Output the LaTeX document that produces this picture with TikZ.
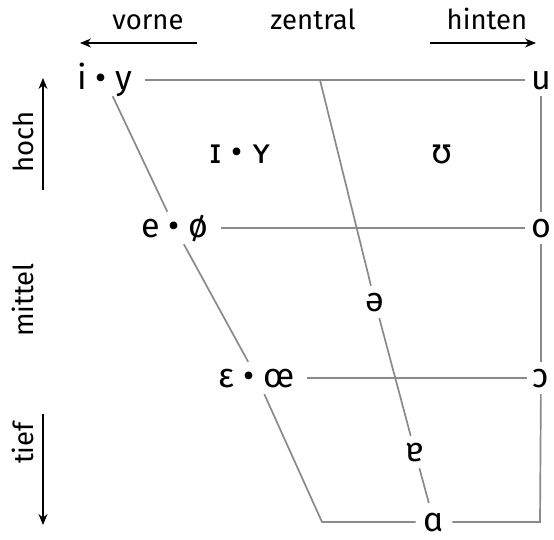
\documentclass[tikz,border=0pt]{standalone}
\usepackage{fontspec}
\setmainfont{Fira Sans}
\newfontfamily\ipafb{DejaVu Sans}
\usetikzlibrary{arrows.meta}
\begin{document}
\begin{tikzpicture}[x=1pt,y=-1pt,
  vowel/.style={font=\fontsize{34}{38}\selectfont, text height=18pt, text depth=0pt, inner ysep=7pt, inner xsep=8pt},
  front/.style={vowel, inner xsep=12pt},
  back/.style={vowel, inner xsep=6pt},
  lax/.style={vowel, inner sep=2pt},
  lab/.style={font=\fontsize{27.5}{32}\selectfont, inner sep=0pt},
  edge/.style={draw={rgb,255:red,138;green,138;blue,138}, line width=1.7pt},
  dir/.style={draw=black, line width=1.3pt, -{Stealth[length=11pt,width=9pt]}}]
\path[use as bounding box, fill=white] (0,0) rectangle (554,539);
% vowels
\node[front] (iy) at (105,80) {i • y};
\node[back] (u) at (541,80) {u};
\node[lax] (iiyy) at (241,154) {{\ipafb ɪ} • {\ipafb ʏ}};
\node[lax] (uu) at (442,154) {\ipafb ʊ};
\node[front] (eo) at (175,228) {e • ø};
\node[back] (o) at (541,228) {o};
\node[vowel] (schwa) at (375,302) {ə};
\node[front] (ee) at (257,378) {ε • œ};
\node[back] (oo) at (541,378) {ɔ};
\node[vowel] (tura) at (415,452) {ɐ};
\node[vowel, inner ysep=4pt] (a) at (434,522) {ɑ};
\coordinate (ctop) at (320,80);
\coordinate (bl) at (322,522);
\coordinate (br) at (540,522);
% grid
\draw[edge] (iy) -- (u);
\draw[edge] (eo) -- (o);
\draw[edge] (ee) -- (oo);
\draw[edge] (iy) -- (eo) -- (ee) -- (bl) -- (a);
\draw[edge] (a) -- (br) -- (oo) -- (o) -- (u);
\draw[edge, shorten >=6pt] (ctop) -- (schwa) -- (tura) -- (a);
% labels
\node[lab, anchor=base] (vorne) at (148,29) {vorne};
\node[lab, anchor=base] (zentral) at (313,29) {zentral};
\node[lab, anchor=base] (hinten) at (487,29) {hinten};
\node[lab, anchor=base, rotate=90] (hoch) at (33,142) {hoch};
\node[lab, anchor=base, rotate=90] (mittel) at (33,300) {mittel};
\node[lab, anchor=base, rotate=90] (tief) at (33,443) {tief};
\coordinate (l1) at (197,43); \coordinate (l2) at (80,43);
\coordinate (r1) at (430,43); \coordinate (r2) at (536,43);
\coordinate (h1) at (43,190); \coordinate (h2) at (43,78);
\coordinate (t1) at (43,414); \coordinate (t2) at (43,525);
\draw[dir] (l1) -- (l2);
\draw[dir] (r1) -- (r2);
\draw[dir] (h1) -- (h2);
\draw[dir] (t1) -- (t2);
\end{tikzpicture}
\end{document}
